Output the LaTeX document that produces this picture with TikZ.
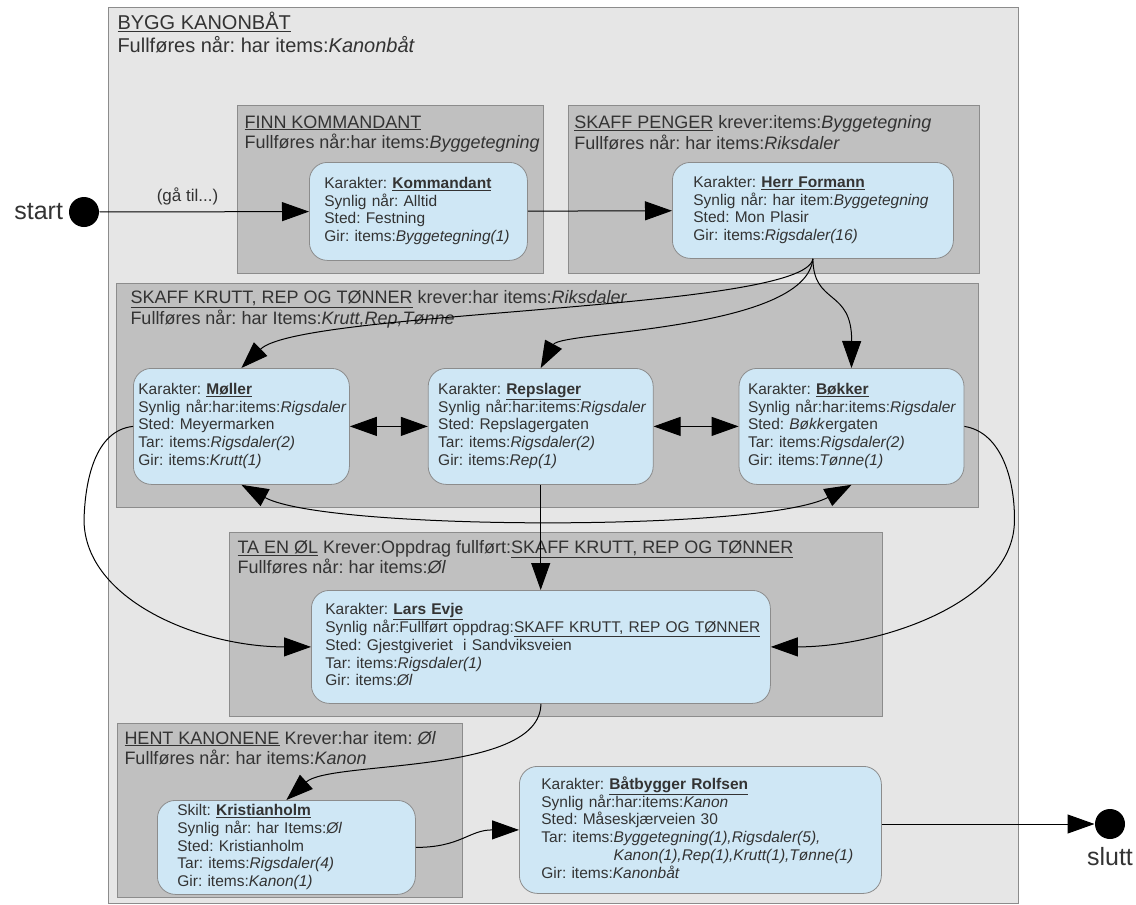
\documentclass[tikz,border=0pt]{standalone}
\usepackage{fontspec}
\setmainfont{Liberation Sans}
\usetikzlibrary{positioning, arrows.meta}

\definecolor{outergray}{HTML}{E6E6E6}
\definecolor{questgray}{HTML}{C0C0C0}
\definecolor{npcblue}{HTML}{CFE7F5}
\definecolor{edgegray}{HTML}{8C8C8C}
\definecolor{txtgray}{HTML}{333333}

\newcommand{\who}[1]{\textbf{\underline{#1}}}
\newcommand{\headstrut}{\rule{0pt}{0.95em}}
\frenchspacing

\begin{document}
\begin{tikzpicture}[x=1pt, y=-1pt, >={Triangle[length=27pt,width=19pt]}, line width=1pt]
    \tikzstyle{quest} = [rectangle,draw=edgegray,fill=questgray,line width=0.8pt,anchor=north west,inner sep=0]
    \tikzstyle{npc} = [rectangle,rounded corners=18pt,draw=edgegray,fill=npcblue,line width=0.8pt,anchor=north west,inner sep=0,align=left,text=txtgray,font=\fontsize{15.5}{17.7}\selectfont]
    \tikzstyle{qtitle} = [anchor=north west,inner sep=0,align=left,text=txtgray,font=\fontsize{18}{20.7}\selectfont]
    \tikzstyle{dot} = [circle,fill=black,minimum size=30pt,inner sep=0]

    \useasboundingbox (0,0) rectangle (1136,905);

    % the whole quest
    \node (bygg) [quest,fill=outergray,minimum width=910pt,minimum height=896pt] at (108,7) {};
    \node (bygghead) [qtitle,font=\fontsize{20}{23}\selectfont,below right=3pt and 9pt of bygg.north west]
        {\headstrut\underline{BYGG KANONBÅT}\\Fullføres når: har items:\textit{Kanonbåt}};

    % sub quests
    \node (finn) [quest,minimum width=306pt,minimum height=168pt] at (237,105) {};
    \node (finnhead) [qtitle,below right=5.5pt and 7pt of finn.north west]
        {\headstrut\underline{FINN KOMMANDANT}\\Fullføres når:har items:\textit{Byggetegning}};

    \node (penger) [quest,minimum width=411pt,minimum height=168pt,right=24pt of finn] {};
    \node (pengerhead) [qtitle,below right=6pt and 6pt of penger.north west]
        {\headstrut\underline{SKAFF PENGER} krever:items:\textit{Byggetegning}\\Fullføres når: har items:\textit{Riksdaler}};

    \node (krutt) [quest,minimum width=862pt,minimum height=224pt] at (116,283) {};
    \node (krutthead) [qtitle,below right=3pt and 14pt of krutt.north west]
        {\headstrut\underline{SKAFF KRUTT, REP OG TØNNER} krever:har items:\textit{Riksdaler}\\Fullføres når: har Items:\textit{Krutt,Rep,Tønne}};

    \node (ol) [quest,minimum width=653pt,minimum height=184pt] at (229,532) {};
    \node (olhead) [qtitle,below right=3.5pt and 8pt of ol.north west]
        {\headstrut\underline{TA EN ØL} Krever:Oppdrag fullført:\underline{SKAFF KRUTT, REP OG TØNNER}\\Fullføres når: har items:\textit{Øl}};

    \node (hent) [quest,minimum width=345pt,minimum height=174pt] at (117,723) {};
    \node (henthead) [qtitle,below right=3.5pt and 7pt of hent.north west]
        {\headstrut\underline{HENT KANONENE} Krever:har item: \textit{Øl}\\Fullføres når: har items:\textit{Kanon}};

    % characters
    \node (kommandant) [npc,minimum width=218pt,minimum height=98pt,text width=188pt] at (309,162)
        {\begin{tabular}{@{}l@{}}Karakter: \who{Kommandant}\\Synlig når: Alltid\\Sted: Festning\\Gir: items:\textit{Byggetegning(1)}\end{tabular}};

    \node (formann) [npc,minimum width=281pt,minimum height=96pt,text width=239pt] at (672,162)
        {\begin{tabular}{@{}l@{}}Karakter: \who{Herr Formann}\\Synlig når: har item:\textit{Byggetegning}\\Sted: Mon Plasir\\Gir: items:\textit{Rigsdaler(16)}\end{tabular}};

    \node (moller) [npc,minimum width=216pt,minimum height=116pt,text width=206pt] at (133,368)
        {\begin{tabular}{@{}l@{}}Karakter: \who{Møller}\\Synlig når:har:items:\textit{Rigsdaler}\\Sted: Meyermarken\\Tar: items:\textit{Rigsdaler(2)}\\Gir: items:\textit{Krutt(1)}\end{tabular}};

    \node (repslager) [npc,minimum width=225pt,minimum height=116pt,text width=205pt,right=78pt of moller]
        {\begin{tabular}{@{}l@{}}Karakter: \who{Repslager}\\Synlig når:har:items:\textit{Rigsdaler}\\Sted: Repslagergaten\\Tar: items:\textit{Rigsdaler(2)}\\Gir: items:\textit{Rep(1)}\end{tabular}};

    \node (bokker) [npc,minimum width=225pt,minimum height=116pt,text width=207pt,right=85pt of repslager]
        {\begin{tabular}{@{}l@{}}Karakter: \who{Bøkker}\\Synlig når:har:items:\textit{Rigsdaler}\\Sted: \textit{Bøkk}ergaten\\Tar: items:\textit{Rigsdaler(2)}\\Gir: items:\textit{Tønne(1)}\end{tabular}};

    \node (lars) [npc,minimum width=459pt,minimum height=113pt,text width=431pt] at (311,590)
        {\begin{tabular}{@{}l@{}}Karakter: \who{Lars Evje}\\Synlig når:Fullført oppdrag:\underline{SKAFF KRUTT, REP OG TØNNER}\\Sted: Gjestgiveriet\ \ i Sandviksveien\\Tar: items:\textit{Rigsdaler(1)}\\Gir: items:\textit{Øl}\end{tabular}};

    \node (kristianholm) [npc,minimum width=258pt,minimum height=94pt,text width=218pt] at (157,800)
        {\begin{tabular}{@{}l@{}}Skilt: \who{Kristianholm}\\Synlig når: har Items:\textit{Øl}\\Sted: Kristianholm\\Tar: items:\textit{Rigsdaler(4)}\\Gir: items:\textit{Kanon(1)}\end{tabular}};

    \node (rolfsen) [npc,minimum width=362pt,minimum height=127pt,text width=318pt] at (519,766)
        {\begin{tabular}{@{}l@{}}Karakter: \who{Båtbygger Rolfsen}\\Synlig når:har:items:\textit{Kanon}\\Sted: Måseskjærveien 30\\Tar: items:\textit{Byggetegning(1),Rigsdaler(5),}\\\phantom{Tar: items:}\textit{Kanon(1),Rep(1),Krutt(1),Tønne(1)}\\Gir: items:\textit{Kanonbåt}\end{tabular}};

    % start and end
    \node (start) [dot] at (84,212) {};
    \node (startlabel) [left=5pt of start,inner sep=0,text=txtgray,font=\fontsize{25}{28}\selectfont] {start};
    \node (slutt) [dot] at (1110,824) {};
    \node (sluttlabel) [below=7pt of slutt,inner sep=0,text=txtgray,font=\fontsize{25}{28}\selectfont] {slutt};

    % connectors
    \draw [->] (start) -- node [pos=0.42,above=6pt,inner sep=0,text=txtgray,font=\fontsize{17}{20}\selectfont] {(gå til...)} (kommandant);
    \draw [->] (kommandant) -- (formann);

    \draw [->] (formann.south) .. controls +(-7.5,52) and +(59,-58) .. (moller.north);
    \draw [->] (formann.south) .. controls +(-7,72) and +(20,-37) .. (repslager.north);
    \draw [->] (formann.south) .. controls +(0.5,47) and +(0.5,-80) .. (bokker.north);

    \draw [<->] (moller) -- (repslager);
    \draw [<->] (repslager) -- (bokker);
    \draw [<->] (moller.south) .. controls +(85,46) and +(-88,47) .. (bokker.south);

    \draw [->] (repslager.south) -- (repslager.south |- lars.north);
    \draw [->] (moller.west) .. controls +(-38,4) and +(1,-40) .. +(-49,94) .. controls +(1,80) and +(-111,0) .. (lars.west);
    \draw [->] (bokker.east) .. controls +(38,6) and +(1,-40) .. +(50,96) .. controls +(-2,80) and +(110,0) .. (lars.east);

    \draw [->] (lars.south) .. controls +(-0.5,72) and +(44,-40) .. (kristianholm.north);
    \draw [->] (kristianholm.east) .. controls +(45,0) and +(-50,0) .. (rolfsen.west);
    \draw [->] (rolfsen.east |- slutt) -- (slutt);
\end{tikzpicture}
\end{document}
